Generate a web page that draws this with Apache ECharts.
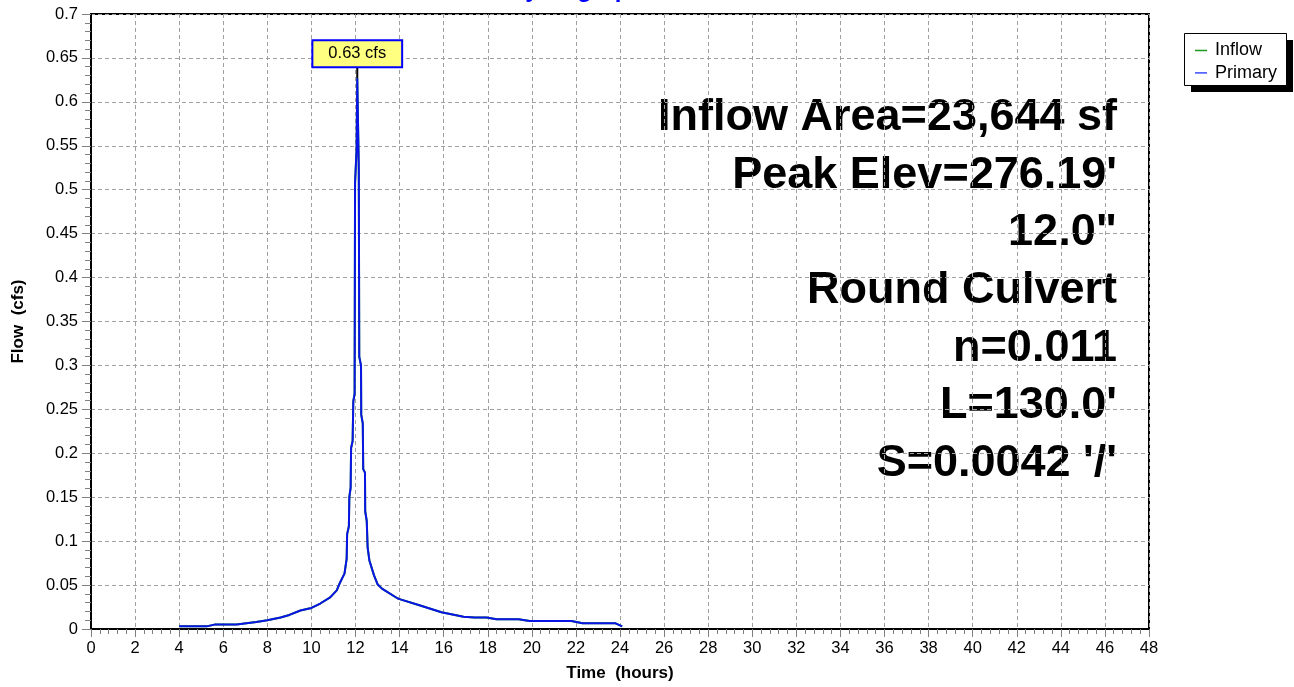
<!DOCTYPE html>
<html>
<head>
<meta charset="utf-8">
<script src="https://cdn.jsdelivr.net/npm/echarts@6/dist/echarts.min.js"></script>
<style>
html,body{margin:0;padding:0;background:#fff;}
#chart{width:1294px;height:687px;}
</style>
</head>
<body>
<div id="chart"></div>
<script>
// ---- Data ----
const timeHours = [4.0, 5.25, 5.6, 6.6, 7.5, 8.0, 8.6, 9.0, 9.5, 10.0, 10.4, 10.85, 11.15, 11.3, 11.5, 11.6, 11.62, 11.7, 11.72, 11.78, 11.8, 11.87, 11.9, 11.96, 11.98, 12.05, 12.08, 12.15, 12.17, 12.25, 12.26, 12.33, 12.35, 12.43, 12.44, 12.51, 12.55, 12.63, 12.84, 13.0, 13.2, 13.9, 14.0, 14.9, 15.9, 16.9, 17.4, 17.95, 18.4, 19.4, 19.9, 21.8, 22.3, 23.8, 24.1];
const primaryCfs = [0.003, 0.003, 0.005, 0.005, 0.008, 0.010, 0.013, 0.016, 0.021, 0.024, 0.029, 0.036, 0.044, 0.053, 0.063, 0.080, 0.108, 0.117, 0.150, 0.161, 0.206, 0.214, 0.259, 0.268, 0.508, 0.546, 0.627, 0.523, 0.310, 0.300, 0.244, 0.234, 0.182, 0.178, 0.134, 0.123, 0.093, 0.078, 0.061, 0.051, 0.046, 0.035, 0.034, 0.027, 0.019, 0.014, 0.013, 0.013, 0.011, 0.011, 0.009, 0.009, 0.0065, 0.0065, 0.003];
const inflowCfs = [0.003, 0.003, 0.005, 0.005, 0.008, 0.010, 0.013, 0.016, 0.021, 0.024, 0.029, 0.036, 0.044, 0.053, 0.063, 0.080, 0.108, 0.117, 0.150, 0.161, 0.206, 0.214, 0.259, 0.268, 0.508, 0.546, 0.627, 0.523, 0.310, 0.300, 0.244, 0.234, 0.182, 0.178, 0.134, 0.123, 0.093, 0.078, 0.061, 0.051, 0.046, 0.035, 0.034, 0.027, 0.019, 0.014, 0.013, 0.013, 0.011, 0.011, 0.009, 0.009, 0.0065, 0.0065, 0.003];
const seriesNames = ['Inflow', 'Primary'];
const annotationLines = ['Inflow Area=23,644 sf', "Peak Elev=276.19'", '12.0"', 'Round Culvert', 'n=0.011', "L=130.0'", "S=0.0042 '/'"];
const chartTitle = 'Hydrograph';
const xAxisName = 'Time  (hours)';
const yAxisName = 'Flow  (cfs)';

// ---- Build ----
const FONT = '"Liberation Sans", Arial, Helvetica, sans-serif';
const pairs = (xs, ys) => xs.map((x, i) => [x, ys[i]]);
const primaryData = pairs(timeHours, primaryCfs);
const inflowData = pairs(timeHours, inflowCfs);
let peakIdx = 0;
primaryCfs.forEach((v, i) => { if (v > primaryCfs[peakIdx]) peakIdx = i; });

const chart = echarts.init(document.getElementById('chart'), null, {renderer: 'canvas'});

const option = {
  animation: false,
  backgroundColor: '#fff',
  textStyle: {fontFamily: FONT},
  grid: {left: 91, right: 145, top: 14, bottom: 55, show: true, borderColor: '#000', borderWidth: 2, backgroundColor: 'transparent'},
  legend: {
    orient: 'vertical',
    left: 1184, top: 33,
    data: seriesNames,
    icon: 'path://M0,0L12,0L12,1.5L0,1.5Z',
    itemWidth: 12, itemHeight: 1.5, itemGap: 4.4,
    padding: [8.5, 6, 6, 11],
    textStyle: {fontSize: 18, lineHeight: 18, color: '#000', fontFamily: FONT, padding: [0, 0, 0, 3]},
    selectedMode: false,
    z: 10
  },
  xAxis: {
    type: 'value', min: 0, max: 48, interval: 2,
    name: xAxisName, nameLocation: 'middle', nameGap: 36,
    nameTextStyle: {fontWeight: 'bold', fontSize: 17, color: '#000', fontFamily: FONT},
    axisLine: {show: true, onZero: false, lineStyle: {color: '#000', width: 2}},
    axisTick: {show: true, length: 8, lineStyle: {color: '#808080', width: 1}},
    minorTick: {show: true, splitNumber: 5, length: 5, lineStyle: {color: '#808080', width: 1}},
    axisLabel: {fontSize: 16.5, color: '#000', margin: 11, fontFamily: FONT},
    splitLine: {show: true, lineStyle: {color: '#a0a0a0', width: 1, type: [4, 3]}}
  },
  yAxis: {
    type: 'value', min: 0, max: 0.7, interval: 0.05,
    name: yAxisName, nameLocation: 'middle', nameGap: 64, nameRotate: 90,
    nameTextStyle: {fontWeight: 'bold', fontSize: 17, color: '#000', fontFamily: FONT},
    axisLine: {show: true, onZero: false, lineStyle: {color: '#000', width: 2}},
    axisTick: {show: true, length: 9, lineStyle: {color: '#808080', width: 1}},
    minorTick: {show: true, splitNumber: 5, length: 6, lineStyle: {color: '#808080', width: 1}},
    axisLabel: {fontSize: 16.5, color: '#000', margin: 13, fontFamily: FONT},
    splitLine: {show: true, lineStyle: {color: '#a0a0a0', width: 1, type: [4, 3]}}
  },
  graphic: [
    {type: 'text', x: 576, y: -9.5, style: {text: chartTitle, fill: '#0000ff', font: 'bold 24px ' + FONT, textAlign: 'center', textVerticalAlign: 'middle'}},
    ...annotationLines.map((t, i) => ({
      type: 'text', x: 1117, y: 131.7 + i * 57.65 - 14,
      style: {text: t, fill: '#000', font: 'bold 45px ' + FONT, textAlign: 'right', textVerticalAlign: 'middle'}
    })),
    // legend frame with drop shadow
    {type: 'rect', z: 1, shape: {x: 1191, y: 40, width: 102, height: 52}, style: {fill: '#000'}},
    {type: 'rect', z: 2, shape: {x: 1184.5, y: 33.5, width: 102, height: 52}, style: {fill: '#fff', stroke: '#000', lineWidth: 1}}
  ],
  series: [
    {
      name: seriesNames[0], type: 'line', data: inflowData, symbol: 'none',
      color: '#1a9a1a', lineStyle: {width: 2, color: '#1a9a1a'}, z: 2
    },
    {
      name: seriesNames[1], type: 'line', data: primaryData, symbol: 'none',
      color: '#3a4cff', lineStyle: {width: 2, color: '#0a14e6'}, z: 3,
      markPoint: {
        symbol: 'rect', symbolSize: [2, 12], symbolOffset: [0, '-50%'],
        itemStyle: {color: '#000'},
        data: [{coord: primaryData[peakIdx], value: primaryCfs[peakIdx]}],
        label: {
          show: true, position: 'top', distance: 0,
          formatter: p => p.value.toFixed(2) + ' cfs',
          fontSize: 16.5, color: '#000', fontFamily: FONT, lineHeight: 19,
          backgroundColor: '#ffff80', borderColor: '#0000ff', borderWidth: 2,
          padding: [3, 15, 3, 15]
        }
      }
    }
  ]
};
chart.setOption(option);
</script>
</body>
</html>
